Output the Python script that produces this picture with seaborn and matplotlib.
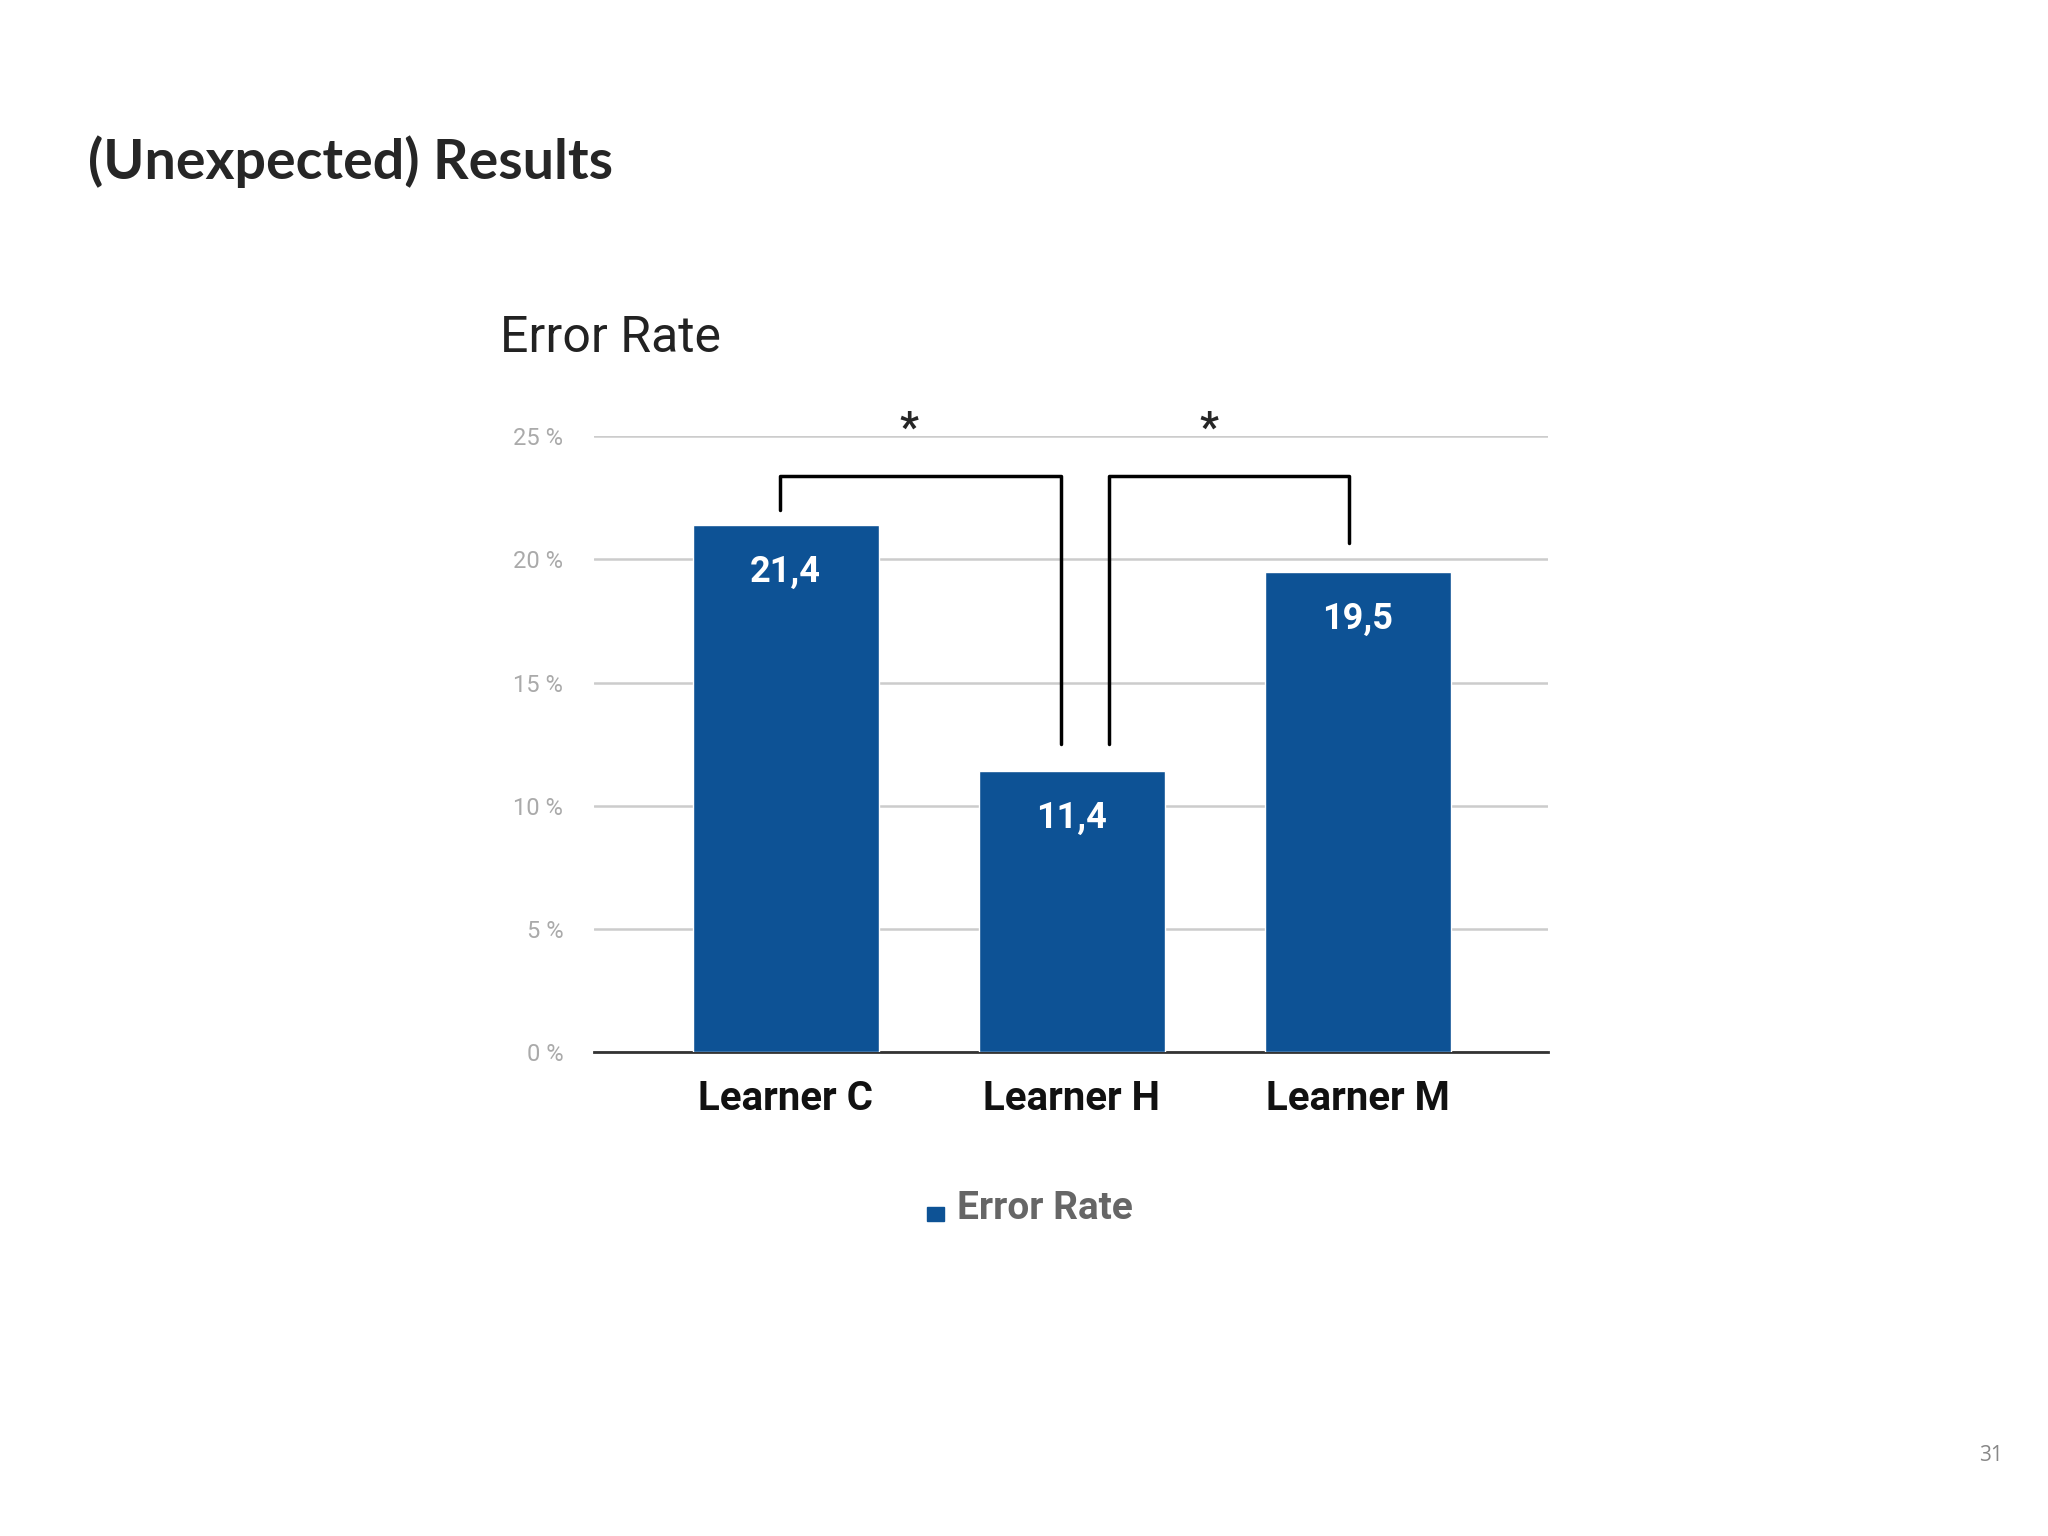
import matplotlib
matplotlib.use('Agg')
import matplotlib.pyplot as plt
import matplotlib.patches as mpatches
import seaborn as sns
import pandas as pd

LEARNERS = ['Learner C', 'Learner H', 'Learner M']
ERROR_RATE = [21.4, 11.4, 19.5]
VALUE_LABELS = ['21,4', '11,4', '19,5']
Y_TICKS = [0, 5, 10, 15, 20, 25]
BAR_COLOR = '#0d5295'

sns.set_theme(style='white')
plt.rcParams['font.family'] = ['Roboto', 'DejaVu Sans']

df = pd.DataFrame({'learner': LEARNERS, 'rate': ERROR_RATE})

fig = plt.figure(figsize=(20.48, 15.36), dpi=100)
ax = fig.add_axes([0.290, 0.315, 0.466, 0.401])

sns.barplot(data=df, x='learner', y='rate', color=BAR_COLOR, width=0.65,
            saturation=1, ax=ax, zorder=3)

ax.set_xlim(-0.67, 2.665)
ax.set_ylim(0, 25)
ax.set_yticks(Y_TICKS)
ax.set_yticklabels([f'{t} %' for t in Y_TICKS], color='#aaaaaa', fontsize=17)
ax.tick_params(axis='y', length=0, pad=22)
ax.tick_params(axis='x', length=0, pad=20)
ax.set_xticks(range(len(LEARNERS)))
ax.set_xticklabels(LEARNERS, fontsize=29, fontweight='bold', color='#111111')
ax.set_xlabel('')
ax.set_ylabel('')
ax.grid(axis='y', color='#cccccc', linewidth=1.8, zorder=0)
for s in ['top', 'right', 'left']:
    ax.spines[s].set_visible(False)
ax.spines['bottom'].set_color('#333333')
ax.spines['bottom'].set_linewidth(2)

for i, (v, lab) in enumerate(zip(ERROR_RATE, VALUE_LABELS)):
    ax.text(i, v - 1.9, lab, ha='center', va='center', color='white',
            fontsize=26, fontweight='bold', zorder=5)

# significance brackets
kw = dict(color='black', linewidth=2.5, clip_on=False, zorder=6)
ax.plot([-0.02, -0.02, 0.963, 0.963], [22.0, 23.4, 23.4, 12.5], **kw)
ax.plot([1.13, 1.13, 1.97, 1.97], [12.5, 23.4, 23.4, 20.65], **kw)
ax.text(0.43, 25.3, '*', ha='center', va='center', fontsize=30, fontweight='bold')
ax.text(1.48, 25.3, '*', ha='center', va='center', fontsize=30, fontweight='bold')

ax.text(-0.67, 0.5, '', transform=ax.transData)
fig.text(0.244, 0.78, 'Error Rate', fontsize=36, color='#222222', va='center')

# legend
leg = fig.legend(handles=[mpatches.Patch(color=BAR_COLOR, label='Error Rate')],
                 loc='center', bbox_to_anchor=(0.503, 0.213), frameon=False,
                 handlelength=1.1, handleheight=1.1, handletextpad=0.9)
for t in leg.get_texts():
    t.set_fontsize(28)
    t.set_fontweight('bold')
    t.set_color('#666666')

fig.text(0.043, 0.895, '(Unexpected) Results', fontsize=40, fontweight='bold',
         family=['Lato', 'DejaVu Sans'], va='center')
fig.text(0.972, 0.049, '31', fontsize=15, color='#888888', ha='center',
         family=['Open Sans', 'DejaVu Sans'])

fig.savefig('out.png', dpi=100)
